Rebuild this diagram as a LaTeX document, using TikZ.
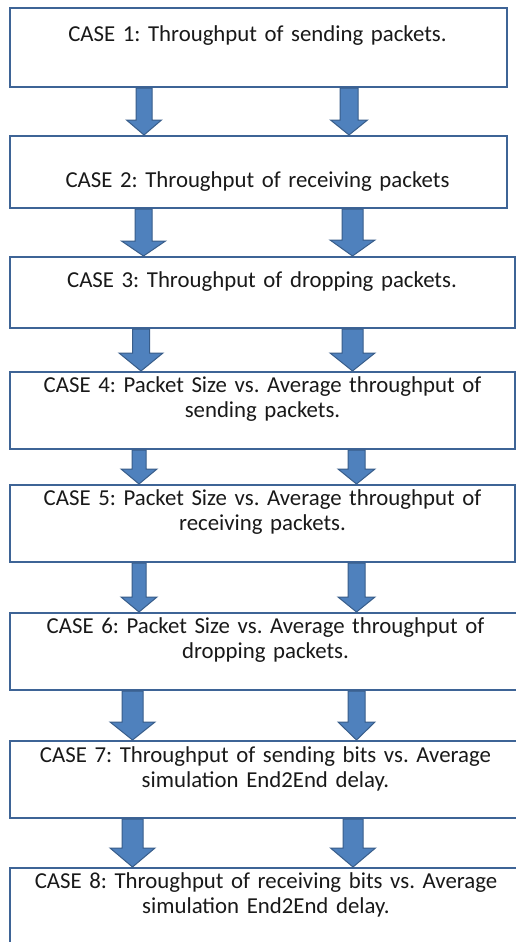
\documentclass[tikz,border=0pt]{standalone}
\usepackage{fontspec}
\setmainfont{Carlito}
\usetikzlibrary{calc}
\frenchspacing
\definecolor{boxline}{HTML}{3E6496}
\definecolor{arrfill}{HTML}{4F81BD}
\definecolor{arrline}{HTML}{385D8A}
\tikzset{
  casebox/.style={draw=boxline, line width=2.2pt, fill=white, rectangle, inner sep=0pt, anchor=north west},
  casetext/.style={font=\fontsize{22.8}{25}\selectfont, text=black!90, align=center, text width=510pt, inner sep=0pt, anchor=base},
  barrow/.style={fill=arrfill, draw=arrline, line width=1pt, line join=miter}
}
% from, to, centre x, shaft half width, head half width, head height
\newcommand\blockarr[6]{%
  \draw[barrow] let \p1=(#1.south), \p2=(#2.north) in
    ({#3pt-#4pt},\y1) -- ({#3pt-#4pt},{\y2+#6pt}) -- ({#3pt-#5pt},{\y2+#6pt}) --
    (#3pt,\y2) -- ({#3pt+#5pt},{\y2+#6pt}) -- ({#3pt+#4pt},{\y2+#6pt}) --
    ({#3pt+#4pt},\y1) -- cycle;}
\begin{document}
\begin{tikzpicture}[x=1pt,y=-1pt]
\clip (0,0) rectangle (516,942);
\fill[white] (0,0) rectangle (516,942);
% boxes
\node[casebox, minimum width=497pt, minimum height=79pt] (b1) at (9,7) {};
\node[casebox, minimum width=497pt, minimum height=72pt] (b2) at (9,135) {};
\node[casebox, minimum width=505pt, minimum height=71pt] (b3) at (9,256) {};
\node[casebox, minimum width=505pt, minimum height=77pt] (b4) at (9,371) {};
\node[casebox, minimum width=505pt, minimum height=77pt] (b5) at (9,484) {};
\node[casebox, minimum width=520pt, minimum height=77pt] (b6) at (9,612) {};
\node[casebox, minimum width=520pt, minimum height=77pt] (b7) at (9,740) {};
\node[casebox, minimum width=520pt, minimum height=100pt] (b8) at (9,867) {};
% texts
\node[casetext] (t1) at (257.5,42) {CASE 1: Throughput of sending packets.};
\node[casetext] (t2) at (257.5,187) {CASE 2: Throughput of receiving packets};
\node[casetext] (t3) at (262,287) {CASE 3: Throughput of dropping packets.};
\node[casetext] (t4) at (262.5,392) {CASE 4: Packet Size vs. Average throughput of\\sending packets.};
\node[casetext] (t5) at (262.5,505) {CASE 5: Packet Size vs. Average throughput of\\receiving packets.};
\node[casetext] (t6) at (265.5,633) {CASE 6: Packet Size vs. Average throughput of\\dropping packets.};
\node[casetext] (t7) at (265.5,762) {CASE 7: Throughput of sending bits vs. Average\\simulation End2End delay.};
\node[casetext] (t8) at (266,888) {CASE 8: Throughput of receiving bits vs. Average\\simulation End2End delay.};
% arrows
\blockarr{b1}{b2}{144}{8}{17.5}{15}
\blockarr{b1}{b2}{349}{9}{18.5}{15}
\blockarr{b2}{b3}{143.5}{8.5}{22}{15}
\blockarr{b2}{b3}{352.5}{10.5}{22.5}{16}
\blockarr{b3}{b4}{141}{8.5}{22}{18}
\blockarr{b3}{b4}{352.5}{10.5}{22.5}{18}
\blockarr{b4}{b5}{139}{7}{18}{15}
\blockarr{b4}{b5}{356.5}{8.5}{18.5}{15}
\blockarr{b5}{b6}{139}{7}{18}{15}
\blockarr{b5}{b6}{356.5}{8.5}{18.5}{15}
\blockarr{b6}{b7}{132.5}{10.5}{22.5}{18}
\blockarr{b6}{b7}{356.5}{8.5}{18.5}{18}
\blockarr{b7}{b8}{132.5}{10.5}{22.5}{19}
\blockarr{b7}{b8}{353}{10}{22.5}{19}
\end{tikzpicture}
\end{document}
